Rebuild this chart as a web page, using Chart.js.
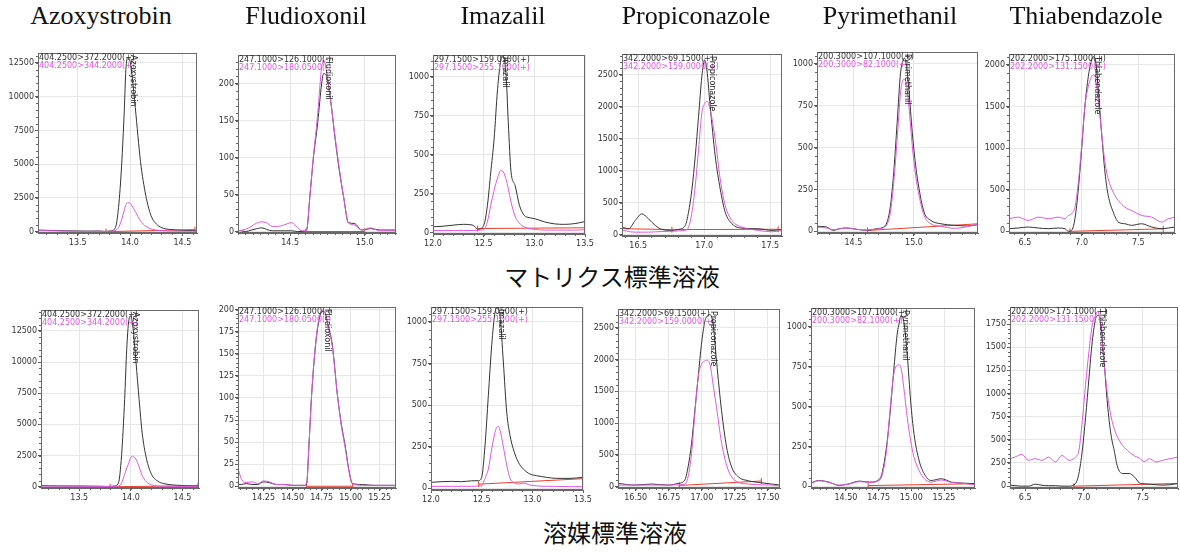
<!DOCTYPE html>
<html>
<head>
<meta charset="utf-8">
<script src="https://cdn.jsdelivr.net/npm/chart.js@4.4.1/dist/chart.umd.min.js"></script>
<style>
  body { margin: 0; background: #fff; width: 1180px; height: 552px; position: relative; overflow: hidden; }
  canvas { position: absolute; }
  .title { position: absolute; top: 1px; transform: translateX(-50%); white-space: nowrap;
           font-family: "Liberation Serif", "DejaVu Serif", serif; font-size: 26px; color: #111; }
  .row { position: absolute; transform: translateX(-50%); white-space: nowrap;
         font-family: "Noto Sans CJK JP", sans-serif; font-size: 24px; color: #111; }
</style>
</head>
<body>
<script>
const compounds = ['Azoxystrobin', 'Fludioxonil', 'Imazalil', 'Propiconazole', 'Pyrimethanil', 'Thiabendazole'];
const quantIons = ['404.2500>372.2000(+)', '247.1000>126.1000(-)', '297.1500>159.0500(+)',
                   '342.2000>69.1500(+)', '200.3000>107.1000(+)', '202.2000>175.1000(+)'];
const qualIons = ['404.2500>344.2000(+)', '247.1000>180.0500(-)', '297.1500>255.1000(+)',
                  '342.2000>159.0000(+)', '200.3000>82.1000(+)', '202.2000>131.1500(+)'];
const rowLabels = ['マトリクス標準溶液', '溶媒標準溶液'];

// Azoxystrobin, matrix standard  (t = retention time, k = quant ion, m = qualifier ion, xt = time ticks)
const azoM_t = [13.12,13.2,13.3,13.4,13.5,13.6,13.7,13.76,13.82,13.86,13.89,13.92,13.945,13.96,13.98,14.0,14.02,14.05,14.1,14.15,14.2,14.26,14.32,14.4,14.5,14.6,14.64];
const azoM_k = [120,100,80,60,50,40,50,20,60,300,1800,5000,9000,12000,12900,12600,11500,9200,5200,2700,1200,500,250,150,100,80,100];
const azoM_m = [80,70,60,40,30,20,30,10,30,80,300,900,1600,2000,2150,2100,1900,1500,800,400,200,100,60,40,30,30,40];
const azoM_bx = [13.77,14.62];
const azoM_by = [0,150];
const azoM_xt = [13.5,14.0,14.5];

// Fludioxonil, matrix standard
const fluM_t = [14.15,14.2,14.24,14.28,14.31,14.34,14.38,14.42,14.46,14.51,14.55,14.58,14.61,14.633,14.655,14.685,14.711,14.725,14.745,14.77,14.8,14.83,14.86,14.89,14.93,14.98,15.04,15.1,15.21];
const fluM_k = [2,0,2,4,5,3,1,1,1,1,0,0,2,49,98,148,200,214,210,180,128,82,45,12,11,2,4,2,2];
const fluM_m = [1,3,7,12,13,12,7,7,9,12,5,1,2,50,100,160,222,232,216,180,130,85,45,12,9,2,5,1,1];
const fluM_bx = [14.605,15.0];
const fluM_by = [0,0];
const fluM_xt = [14.5,15.0];

// Imazalil, matrix standard
const imaM_t = [12.0,12.1,12.2,12.3,12.4,12.44,12.5,12.537,12.57,12.603,12.637,12.67,12.687,12.72,12.743,12.77,12.81,12.853,12.9,12.95,13.0,13.1,13.2,13.3,13.4,13.5];
const imaM_k = [36,40,47,52,45,20,45,174,387,600,919,1110,1135,1025,706,390,302,174,110,95,89,68,55,52,57,70];
const imaM_m = [12,12,12,12,12,14,18,70,174,270,350,398,395,345,280,196,105,60,35,25,20,15,15,15,15,18];
const imaM_bx = [12.44,13.5];
const imaM_by = [25,30];
const imaM_xt = [12.0,12.5,13.0,13.5];

// Propiconazole, matrix standard
const proM_t = [16.377,16.427,16.477,16.528,16.578,16.629,16.679,16.755,16.806,16.856,16.881,16.907,16.932,16.957,16.982,17.003,17.02,17.045,17.083,17.121,17.159,17.21,17.286,17.412,17.513,17.589];
const proM_k = [119,93,223,326,248,145,83,67,83,145,352,714,1232,1853,2474,2733,2578,2008,1232,714,352,171,103,93,67,83];
const proM_m = [75,50,40,40,40,45,50,55,60,70,119,352,766,1335,1905,2050,2086,1956,1491,870,455,223,119,67,45,67];
const proM_bx = [16.377,16.755,17.56];
const proM_by = [95,80,85];
const proM_xt = [16.5,17.0,17.5];

// Pyrimethanil, matrix standard
const pyrM_t = [14.2,14.278,14.333,14.389,14.444,14.528,14.611,14.694,14.75,14.778,14.806,14.833,14.861,14.889,14.911,14.922,14.939,14.958,14.986,15.014,15.042,15.083,15.139,15.222,15.333,15.444,15.528];
const pyrM_k = [30,26,6,16,20,12,6,16,26,55,154,352,648,945,1024,1034,984,846,589,391,253,115,65,45,36,32,40];
const pyrM_m = [25,20,10,15,20,12,8,14,22,40,115,292,549,826,905,909,875,747,510,332,213,95,45,30,18,28,45];
const pyrM_bx = [14.617,15.528];
const pyrM_by = [5,45];
const pyrM_xt = [14.5,15.0];

// Thiabendazole, matrix standard
const thiM_t = [6.359,6.441,6.529,6.618,6.706,6.794,6.853,6.882,6.912,6.941,6.971,7.0,7.029,7.059,7.088,7.106,7.124,7.147,7.176,7.206,7.235,7.279,7.324,7.382,7.441,7.529,7.618,7.706,7.765,7.824];
const thiM_k = [32,40,52,40,32,40,32,0,12,151,509,986,1503,1861,2060,2099,2040,1702,1185,708,429,231,111,91,72,91,52,32,40,52];
const thiM_m = [151,171,131,171,151,171,151,190,211,290,588,1026,1503,1742,1861,1881,1821,1583,1185,827,628,469,370,290,250,191,171,111,151,171];
const thiM_bx = [6.897,7.72];
const thiM_by = [0,30];
const thiM_xt = [6.5,7.0,7.5];

// Azoxystrobin, solvent standard
const azoS_t = [13.13,13.2,13.3,13.4,13.5,13.6,13.7,13.78,13.84,13.88,13.91,13.94,13.96,13.98,14.0,14.02,14.05,14.08,14.11,14.15,14.2,14.26,14.32,14.4,14.5,14.6,14.66];
const azoS_k = [100,80,70,60,60,50,40,20,60,300,2500,7000,11000,13300,13700,12800,10000,7000,4300,2300,1000,450,250,150,100,60,80];
const azoS_m = [60,50,50,40,40,30,30,10,30,60,300,1000,1500,1900,2350,2450,2200,1600,900,400,150,60,40,30,30,30,40];
const azoS_bx = [13.8,14.65];
const azoS_by = [0,80];
const azoS_xt = [13.5,14.0,14.5];

// Fludioxonil, solvent standard
const fluS_t = [14.03,14.06,14.1,14.15,14.2,14.25,14.3,14.36,14.42,14.5,14.56,14.6,14.621,14.641,14.664,14.698,14.733,14.76,14.778,14.8,14.842,14.885,14.92,14.951,14.985,15.015,15.1,15.2,15.3,15.39];
const fluS_k = [2,2,3,2,2,5,4,2,2,1,1,1,3,47,104,160,192,198,197,185,160,104,70,47,18,3,2,1,1,1];
const fluS_m = [20,8,4,5,3,6,5,2,2,1,1,1,3,47,104,162,194,199,197,184,158,104,68,45,17,3,1,1,1,1];
const fluS_bx = [14.62,15.015];
const fluS_by = [0,0];
const fluS_xt = [14.25,14.5,14.75,15.0,15.25];

// Imazalil, solvent standard
const imaS_t = [12.0,12.1,12.2,12.3,12.4,12.467,12.5,12.533,12.566,12.599,12.632,12.648,12.665,12.681,12.714,12.747,12.78,12.812,12.862,12.911,12.977,13.043,13.142,13.24,13.372,13.5];
const imaS_k = [36,40,42,40,45,46,66,257,558,859,1060,1085,1075,1040,759,458,317,237,157,116,86,76,66,60,60,66];
const imaS_m = [12,12,12,12,12,14,16,60,116,237,337,367,372,350,250,140,60,36,26,32,20,15,12,12,10,10];
const imaS_bx = [12.47,13.5];
const imaS_by = [25,58];
const imaS_xt = [12.0,12.5,13.0,13.5];

// Propiconazole, solvent standard
const proS_t = [16.366,16.492,16.619,16.745,16.821,16.871,16.896,16.922,16.947,16.972,16.997,17.023,17.035,17.061,17.086,17.111,17.149,17.187,17.225,17.275,17.351,17.452,17.528,17.591];
const proS_k = [52,26,42,26,52,104,312,677,1198,1719,2240,2604,2670,2708,2552,1979,1198,625,312,156,94,62,42,26];
const proS_m = [26,26,26,26,30,40,156,521,1146,1719,1927,1979,1990,1927,1600,1250,694,339,156,70,42,30,26,15];
const proS_bx = [16.83,17.45];
const proS_by = [20,90];
const proS_xt = [16.5,16.75,17.0,17.25,17.5];

// Pyrimethanil, solvent standard
const pyrS_t = [14.233,14.292,14.37,14.448,14.526,14.604,14.682,14.76,14.786,14.813,14.839,14.865,14.891,14.904,14.922,14.943,14.969,14.995,15.021,15.06,15.099,15.151,15.229,15.307,15.385,15.487];
const pyrS_k = [21,37,27,6,17,33,27,48,120,265,472,720,948,1010,1072,1031,824,534,327,161,79,37,48,27,21,17];
const pyrS_m = [20,35,25,8,15,30,25,40,99,244,493,700,758,762,741,617,431,286,182,99,48,27,40,25,20,10];
const pyrS_bx = [14.67,15.487];
const pyrS_by = [5,17];
const pyrS_xt = [14.5,14.75,15.0,15.25];

// Thiabendazole, solvent standard
const thiS_t = [6.371,6.414,6.471,6.529,6.586,6.643,6.7,6.757,6.814,6.871,6.929,6.957,6.986,7.014,7.043,7.071,7.1,7.114,7.123,7.143,7.171,7.2,7.229,7.257,7.286,7.329,7.386,7.429,7.471,7.514,7.557,7.614,7.671,7.729,7.8];
const thiS_k = [11,5,0,0,21,10,5,5,0,0,29,136,386,743,1171,1564,1814,1840,1850,1743,1350,886,564,386,207,136,136,100,36,25,21,15,11,15,29];
const thiS_m = [296,314,343,279,296,279,314,261,332,279,314,386,707,1100,1457,1743,1850,1886,1880,1700,1333,993,760,624,529,439,368,327,303,265,296,261,279,296,314];
const thiS_bx = [6.914,7.8];
const thiS_by = [0,29];
const thiS_xt = [6.5,7.0,7.5];

const INK = '#333', MAG = '#e058e0', RED = '#e8402f';
const tickFont = { family: 'DejaVu Sans', size: 8 };

// plot areas on the page: [left, top, right, bottom]
const boxes = [
  [38,53,197,233], [238,55,396,233], [433,55,585,234], [622,54,782,236], [817,52,978,233], [1009,54,1175,233],
  [41,310,199,488], [238,307,396,488], [431,307,583,490], [618,309,780,488], [811,308,975,488], [1010,307,1178,488]
];

// x: [min, max, minor step, decimals], y: [min, max, step], name: where the peak name sits
const panels = [
  { c: 0, t: azoM_t, k: azoM_k, m: azoM_m, bx: azoM_bx, by: azoM_by, xt: azoM_xt, x: [13.12, 14.64, 0.1, 1], y: [-100, 13240, 2500], name: 14.03 },
  { c: 1, t: fluM_t, k: fluM_k, m: fluM_m, bx: fluM_bx, by: fluM_by, xt: fluM_xt, x: [14.15, 15.21, 0.05, 1], y: [-2, 239, 50], name: 14.755 },
  { c: 2, t: imaM_t, k: imaM_k, m: imaM_m, bx: imaM_bx, by: imaM_by, xt: imaM_xt, x: [12.0, 13.5, 0.1, 1], y: [-10, 1140, 250], name: 12.71 },
  { c: 3, t: proM_t, k: proM_k, m: proM_m, bx: proM_bx, by: proM_by, xt: proM_xt, x: [16.377, 17.589, 0.1, 1], y: [-20, 2826, 500], name: 17.06 },
  { c: 4, t: pyrM_t, k: pyrM_k, m: pyrM_m, bx: pyrM_bx, by: pyrM_by, xt: pyrM_xt, x: [14.2, 15.528, 0.1, 1], y: [-10, 1071, 250], name: 14.945 },
  { c: 5, t: thiM_t, k: thiM_k, m: thiM_m, bx: thiM_bx, by: thiM_by, xt: thiM_xt, x: [6.359, 7.824, 0.1, 1], y: [-20, 2131, 500], name: 7.135 },
  { c: 0, t: azoS_t, k: azoS_k, m: azoS_m, bx: azoS_bx, by: azoS_by, xt: azoS_xt, x: [13.13, 14.66, 0.1, 1], y: [-100, 14170, 2500], name: 14.04 },
  { c: 1, t: fluS_t, k: fluS_k, m: fluS_m, bx: fluS_bx, by: fluS_by, xt: fluS_xt, x: [14.03, 15.39, 0.05, 2], y: [-2, 203, 25], name: 14.8 },
  { c: 2, t: imaS_t, k: imaS_k, m: imaS_m, bx: imaS_bx, by: imaS_by, xt: imaS_xt, x: [12.0, 13.5, 0.1, 1], y: [-10, 1090, 250], name: 12.69 },
  { c: 3, t: proS_t, k: proS_k, m: proS_m, bx: proS_bx, by: proS_by, xt: proS_xt, x: [16.366, 17.591, 0.05, 2], y: [-20, 2797, 500], name: 17.085 },
  { c: 4, t: pyrS_t, k: pyrS_k, m: pyrS_m, bx: pyrS_bx, by: pyrS_by, xt: pyrS_xt, x: [14.233, 15.487, 0.05, 2], y: [-10, 1118, 250], name: 14.955 },
  { c: 5, t: thiS_t, k: thiS_k, m: thiS_m, bx: thiS_bx, by: thiS_by, xt: thiS_xt, x: [6.371, 7.8, 0.1, 1], y: [-20, 1934, 250], name: 7.155 }
];

// ticks at whole multiples of the step inside the axis range
function stepTicks(min, max, step) {
  const out = [];
  for (let n = Math.ceil(min / step - 1e-9); n * step <= max + 1e-9; n++) {
    out.push({ value: +(n * step).toFixed(6) });
  }
  return out;
}

// frame, minor ticks, transition labels and the vertical peak name
const decor = {
  id: 'decor',
  afterDraw(chart, args, o) {
    const { ctx, chartArea: a, scales: { x, y } } = chart;
    ctx.save();
    ctx.strokeStyle = '#666';
    ctx.lineWidth = 1;
    ctx.beginPath();
    stepTicks(x.min, x.max, o.xMinor).forEach(tk => {
      const px = Math.round(x.getPixelForValue(tk.value)) + 0.5;
      ctx.moveTo(px, a.bottom);
      ctx.lineTo(px, a.bottom + 2);
    });
    stepTicks(y.min, y.max, o.yMinor).forEach(tk => {
      const py = Math.round(y.getPixelForValue(tk.value)) + 0.5;
      ctx.moveTo(a.left - 2, py);
      ctx.lineTo(a.left, py);
    });
    ctx.stroke();

    ctx.strokeStyle = '#6a6a6a';
    ctx.strokeRect(a.left + 0.5, a.top + 0.5, a.right - a.left - 1, a.bottom - a.top - 1);

    ctx.font = '8px "DejaVu Sans"';
    ctx.textBaseline = 'top';
    ctx.fillStyle = INK;
    ctx.fillText(o.quant, a.left + 1, a.top + 1);
    ctx.fillStyle = MAG;
    ctx.fillText(o.qual, a.left + 1, a.top + 9);

    ctx.translate(x.getPixelForValue(o.nameAt), a.top + 2);
    ctx.rotate(Math.PI / 2);
    ctx.fillStyle = '#222';
    ctx.textBaseline = 'middle';
    ctx.fillText(o.name, 0, 0);
    ctx.restore();
  }
};

function trace(p, ys, color) {
  return {
    data: p.t.map((t, j) => ({ x: t, y: ys[j] })),
    borderColor: color, borderWidth: 1, pointRadius: 0,
    cubicInterpolationMode: 'monotone', fill: false
  };
}

panels.forEach((p, i) => {
  const [l, t, r, b] = boxes[i];
  const cv = document.createElement('canvas');
  cv.width = r - l + 40 + 12;
  cv.height = b - t + 8 + 18;
  cv.style.left = (l - 40) + 'px';
  cv.style.top = (t - 8) + 'px';
  document.body.appendChild(cv);

  const baseline = {
    data: p.bx.map((v, j) => ({ x: v, y: p.by[j] })),
    borderColor: RED, borderWidth: 1, tension: 0,
    pointStyle: 'line', rotation: 90, pointRadius: 3,
    pointBorderColor: RED, pointBorderWidth: 1
  };

  new Chart(cv, {
    type: 'line',
    data: { datasets: [trace(p, p.m, MAG), trace(p, p.k, INK), baseline] },
    options: {
      responsive: false,
      animation: false,
      events: [],
      layout: { padding: { top: 8, right: 12, left: 0, bottom: 0 } },
      plugins: {
        legend: { display: false },
        tooltip: { enabled: false },
        decor: {
          quant: quantIons[p.c], qual: qualIons[p.c], name: compounds[p.c], nameAt: p.name,
          xMinor: p.x[2], yMinor: p.y[2] / 5
        }
      },
      scales: {
        x: {
          type: 'linear', min: p.x[0], max: p.x[1],
          afterBuildTicks: s => { s.ticks = p.xt.map(v => ({ value: v })); },
          afterFit: s => { s.height = 18; },
          ticks: {
            autoSkip: false, maxRotation: 0,
            font: tickFont, color: '#333', padding: 2,
            callback: v => Number(v).toFixed(p.x[3])
          },
          grid: { color: '#e6e6e6', tickLength: 3, tickColor: '#555' },
          border: { color: '#666' }
        },
        y: {
          type: 'linear', min: p.y[0], max: p.y[1],
          afterBuildTicks: s => { s.ticks = stepTicks(p.y[0], p.y[1], p.y[2]); },
          afterFit: s => { s.width = 40; },
          ticks: {
            autoSkip: false,
            font: tickFont, color: '#333', padding: 1,
            callback: v => String(Math.round(v))
          },
          grid: { color: '#e6e6e6', tickLength: 3, tickColor: '#555' },
          border: { color: '#666' }
        }
      }
    },
    plugins: [decor]
  });
});

// compound names over the columns, solution type under each row
const titleX = [101, 306, 503, 696, 890, 1086];
compounds.forEach((name, i) => {
  const d = document.createElement('div');
  d.className = 'title';
  d.style.left = titleX[i] + 'px';
  d.textContent = name;
  document.body.appendChild(d);
});
[[612, 258], [615, 514]].forEach(([x, y], i) => {
  const d = document.createElement('div');
  d.className = 'row';
  d.style.left = x + 'px';
  d.style.top = y + 'px';
  d.textContent = rowLabels[i];
  document.body.appendChild(d);
});
</script>
</body>
</html>
